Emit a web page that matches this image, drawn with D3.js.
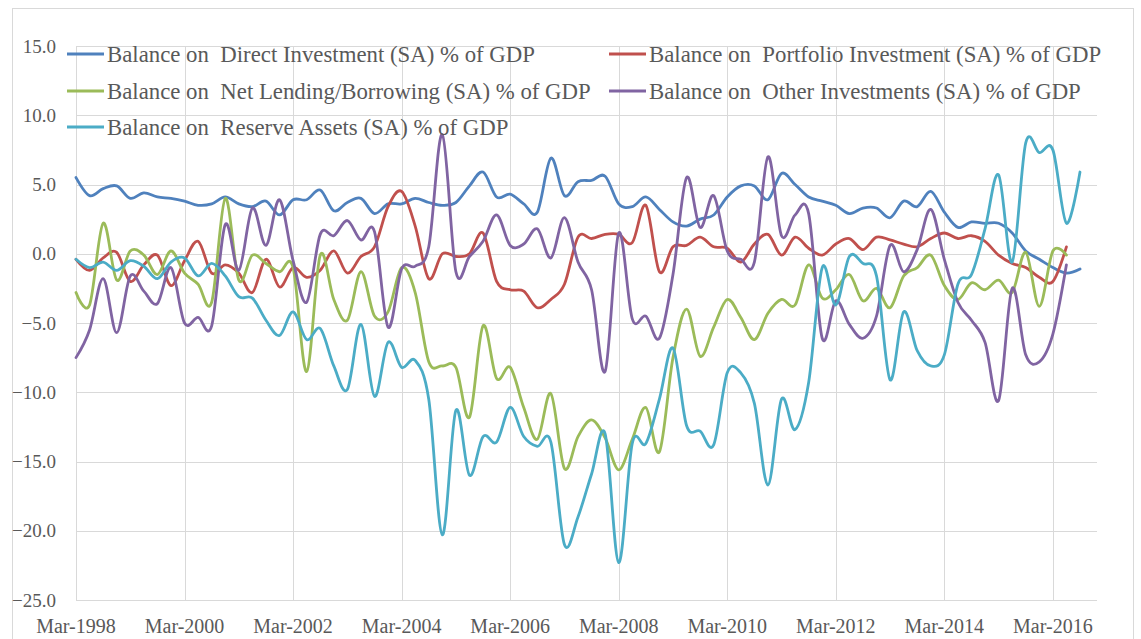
<!DOCTYPE html>
<html>
<head>
<meta charset="utf-8">
<script src="https://cdn.jsdelivr.net/npm/d3@7"></script>
<style>
  html, body { margin: 0; padding: 0; background: #ffffff; }
  svg { display: block; }
  text { font-family: "Liberation Serif", "Times New Roman", serif; fill: #595959; }
</style>
</head>
<body>
<svg id="chart" width="1141" height="639"></svg>
<script>
// ---------- DATA ----------
const quarterNames = ["Mar", "Jun", "Sep", "Dec"];
const categories = d3.range(75).map(i => quarterNames[i % 4] + "-" + (1998 + Math.floor(i / 4)));

const xTickLabels = ["Mar-1998", "Mar-2000", "Mar-2002", "Mar-2004", "Mar-2006",
                     "Mar-2008", "Mar-2010", "Mar-2012", "Mar-2014", "Mar-2016"];
const yTickValues = [-25, -20, -15, -10, -5, 0, 5, 10, 15];

const seriesNames = [
  "Balance on  Direct Investment (SA) % of GDP",
  "Balance on  Portfolio Investment (SA) % of GDP",
  "Balance on  Net Lending/Borrowing (SA) % of GDP",
  "Balance on  Other Investments (SA) % of GDP",
  "Balance on  Reserve Assets (SA) % of GDP"
];

const directInvestment = [
  5.5, 4.2, 4.7, 4.9, 4.0, 4.4, 4.1, 4.0, 3.8, 3.5,
  3.6, 4.1, 3.6, 3.4, 3.8, 2.8, 3.9, 3.9, 4.6, 3.1,
  3.7, 4.0, 2.9, 3.6, 3.6, 4.0, 3.7, 3.5, 3.7, 4.9,
  5.9, 4.1, 4.3, 3.6, 3.0, 6.9, 4.2, 5.2, 5.3, 5.6,
  3.6, 3.4, 4.1, 3.2, 2.3, 2.0, 2.5, 2.8, 4.1, 4.9,
  4.9, 3.9, 5.8, 5.0, 4.1, 3.8, 3.5, 2.9, 3.3, 3.3,
  2.6, 3.8, 3.4, 4.5, 3.0, 1.9, 2.3, 2.2, 2.2, 1.5,
  0.2, -0.4, -1.0, -1.4, -1.1
];
const portfolioInvestment = [
  -0.4, -1.2, -0.3, 0.1, -2.0, -0.8, -0.1, -2.3, -0.5, 0.9,
  -1.4, -0.8, -1.4, -2.8, -0.4, -2.4, -1.0, -1.7, -1.2, 0.2,
  -1.4, -0.2, 0.5, 3.4, 4.5, 2.0, -1.8, 0.0, -0.2, 0.0,
  1.5, -2.0, -2.6, -2.7, -3.9, -3.3, -2.2, 1.2, 1.1, 1.4,
  1.4, 0.8, 3.5, -1.3, 0.5, 0.6, 1.2, 0.5, 0.4, -0.6,
  0.7, 1.4, -0.1, 1.2, 0.4, -0.1, 0.7, 1.1, 0.3, 1.2,
  1.0, 0.7, 0.5, 1.1, 1.5, 1.1, 1.3, 0.9, -0.1, -0.7,
  -1.0, -1.7, -2.0, 0.5
];
const netLending = [
  -2.8, -3.7, 2.2, -1.9, 0.2, -0.1, -1.5, 0.2, -1.4, -2.2,
  -3.5, 4.0, -1.9, -0.1, -0.7, -1.3, -1.0, -8.5, -0.1, -3.3,
  -4.8, -1.3, -4.5, -4.2, -1.0, -2.8, -7.8, -8.1, -8.2, -11.8,
  -5.2, -9.0, -8.2, -11.1, -13.4, -10.1, -15.5, -13.2, -12.0, -13.3,
  -15.6, -13.4, -11.1, -14.3, -7.5, -4.0, -7.4, -5.3, -3.3, -4.6,
  -6.2, -4.3, -3.3, -3.7, -0.8, -3.2, -2.6, -1.5, -3.4, -2.5,
  -3.9, -1.6, -1.0, -0.1, -2.3, -3.3, -2.1, -2.6, -1.9, -2.8,
  0.1, -3.8, 0.2, -0.1
];
const otherInvestments = [
  -7.5, -5.5, -1.8, -5.7, -1.6, -2.7, -3.6, -1.0, -5.0, -4.6,
  -5.2, 2.1, -1.2, 3.3, 0.6, 3.9, -0.5, -3.5, 1.4, 1.3,
  2.4, 1.0, 1.6, -5.3, -1.1, -0.9, 0.5, 8.6, -1.3, -0.2,
  0.9, 2.8, 0.6, 0.7, 1.8, -0.3, 2.6, -0.6, -2.6, -8.5,
  1.5, -4.7, -4.5, -6.1, -1.5, 5.5, 1.9, 4.2, 0.2, -0.4,
  -0.6, 7.0, 1.3, 2.8, 2.9, -6.1, -3.4, -5.1, -6.1, -4.5,
  0.6, -1.3, 0.3, 3.2, -0.4, -3.5, -4.8, -6.4, -10.6, -2.5,
  -7.3, -7.8, -5.8, -0.8
];
const reserveAssets = [
  -0.4, -1.0, -0.6, -1.2, -0.5, -0.9, -1.8, -0.6, -0.3, -1.6,
  -0.7, -1.6, -3.1, -3.2, -4.8, -5.9, -4.2, -6.2, -5.4, -8.1,
  -9.8, -5.1, -10.3, -6.4, -8.2, -7.7, -10.5, -20.3, -11.3, -16.0,
  -13.2, -13.6, -11.1, -13.2, -13.9, -13.6, -21.0, -19.0, -15.9, -13.0,
  -22.3, -13.7, -13.7, -10.5, -6.8, -12.4, -12.8, -13.8, -8.6, -8.6,
  -10.8, -16.7, -10.5, -12.7, -9.3, -1.0, -3.7, -0.2, -0.7, -1.6,
  -9.1, -4.2, -7.0, -8.1, -7.3, -2.2, -1.5, 1.8, 5.7, -0.6,
  8.0, 7.3, 7.5, 2.2, 5.9
];

const seriesValues = [directInvestment, portfolioInvestment, netLending, otherInvestments, reserveAssets];
const seriesColors = ["#4F81BD", "#C0504D", "#9BBB59", "#8064A2", "#4BACC6"];

// ---------- LAYOUT ----------
const svg = d3.select("#chart");
const plot = { right: 1097, top: 46, bottom: 600 };

const x = d3.scaleLinear().domain([0, 74]).range([76, 1080]);
const y = d3.scaleLinear().domain([-25, 15]).range([plot.bottom, plot.top]);

// chart border
svg.append("rect")
  .attr("x", 12.5).attr("y", 8.5)
  .attr("width", 1121).attr("height", 700)
  .attr("fill", "none").attr("stroke", "#d9d9d9").attr("stroke-width", 1);

const tickIdx = xTickLabels.map(l => categories.indexOf(l));

// horizontal gridlines
svg.append("g").selectAll("line").data(yTickValues).join("line")
  .attr("x1", x(0)).attr("x2", plot.right)
  .attr("y1", d => Math.round(y(d)) + 0.5).attr("y2", d => Math.round(y(d)) + 0.5)
  .attr("stroke", "#d9d9d9").attr("stroke-width", 1);

// vertical gridlines
svg.append("g").selectAll("line").data(tickIdx).join("line")
  .attr("x1", d => Math.round(x(d)) + 0.5).attr("x2", d => Math.round(x(d)) + 0.5)
  .attr("y1", plot.top).attr("y2", plot.bottom)
  .attr("stroke", "#d9d9d9").attr("stroke-width", 1);

// y labels
svg.append("g").selectAll("text").data(yTickValues).join("text")
  .attr("x", 56).attr("y", d => y(d)).attr("dy", "0.35em")
  .attr("text-anchor", "end")
  .style("font-size", "19px")
  .text(d => d3.format(".1f")(d));

// x labels
svg.append("g").selectAll("text").data(tickIdx).join("text")
  .attr("x", d => x(d)).attr("y", 633)
  .attr("text-anchor", "middle")
  .style("font-size", "20px")
  .text((d, i) => xTickLabels[i]);

// lines
const line = d3.line()
  .x((d, i) => x(i))
  .y(d => y(d))
  .curve(d3.curveCardinal.tension(0));

svg.append("g").selectAll("path").data(seriesValues).join("path")
  .attr("d", d => line(d))
  .attr("fill", "none")
  .attr("stroke", (d, i) => seriesColors[i])
  .attr("stroke-width", 2.8)
  .attr("stroke-linejoin", "round")
  .attr("stroke-linecap", "round");

// legend
const legendPos = [
  { lx: 67, tx: 107, y: 54 },
  { lx: 609, tx: 649, y: 54 },
  { lx: 67, tx: 107, y: 91 },
  { lx: 609, tx: 649, y: 91 },
  { lx: 67, tx: 107, y: 127 }
];
const lg = svg.append("g").selectAll("g").data(seriesNames).join("g");
lg.append("line")
  .attr("x1", (d, i) => legendPos[i].lx).attr("x2", (d, i) => legendPos[i].lx + 37)
  .attr("y1", (d, i) => legendPos[i].y).attr("y2", (d, i) => legendPos[i].y)
  .attr("stroke", (d, i) => seriesColors[i]).attr("stroke-width", 2.8);
lg.append("text")
  .attr("x", (d, i) => legendPos[i].tx).attr("y", (d, i) => legendPos[i].y)
  .attr("dy", "0.33em")
  .style("font-size", "22.8px")
  .style("white-space", "pre")
  .text(d => d);
</script>
</body>
</html>
